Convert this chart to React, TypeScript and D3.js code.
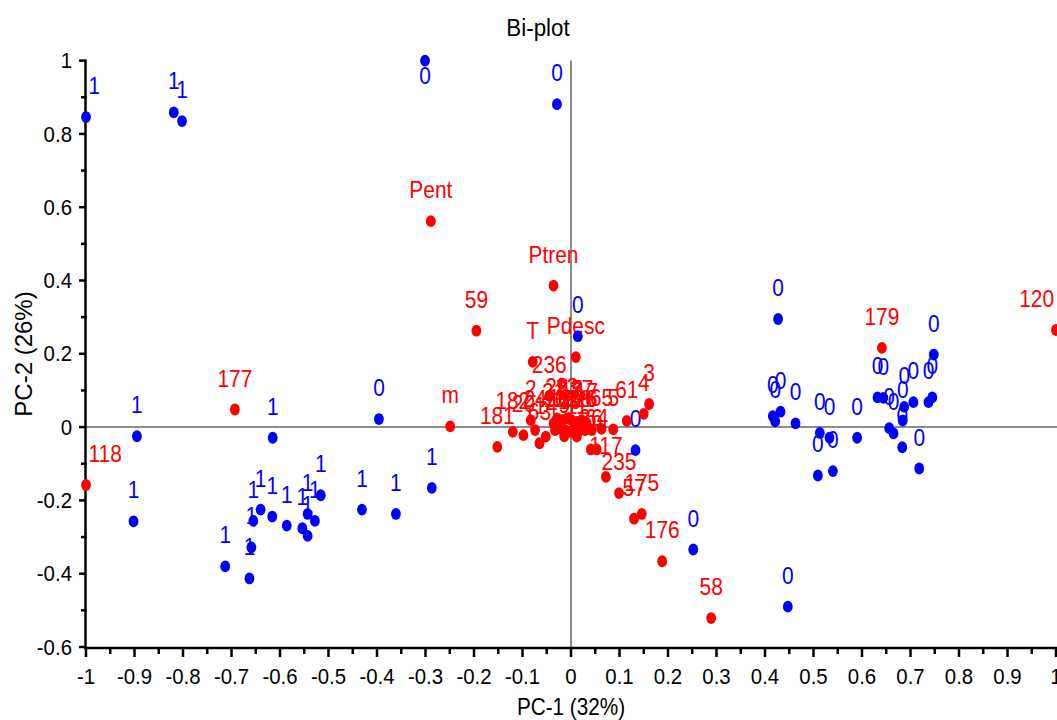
import React, { useEffect, useRef } from "react";
import * as d3 from "d3";

const W = 1057;
const H = 720;
const FONT = "'Liberation Sans', Arial, Helvetica, sans-serif";

// Observation scores on the first two components, with their class label
const obsClass = [
  "1", "1", "1", "1", "1", "1", "1", "1", "1", "1", "1", "1", "1", "1", "1", "1", "1", "1", "1", "1", "1",
  "0", "0", "0", "0", "0", "0", "0",
  "0", "0", "0", "0", "0", "0", "0", "0", "0", "0", "0", "0", "0", "0", "0", "0", "0", "0", "0", "0", "0", "0",
];
const obsPC1 = [
  -1.0, -0.819, -0.802, -0.895, -0.615, -0.902, -0.713, -0.663, -0.659, -0.655, -0.64, -0.616, -0.586, -0.554,
  -0.543, -0.543, -0.528, -0.516, -0.431, -0.361, -0.287,
  -0.396, -0.301, -0.029, 0.014, 0.133, 0.252, 0.447,
  0.427, 0.432, 0.416, 0.421, 0.463, 0.513, 0.533, 0.509, 0.54, 0.59, 0.632, 0.644, 0.656, 0.665, 0.687, 0.684,
  0.683, 0.706, 0.718, 0.737, 0.745, 0.748,
];
const obsPC2 = [
  0.846, 0.859, 0.835, -0.025, -0.029, -0.257, -0.38, -0.413, -0.328, -0.256, -0.225, -0.244, -0.269, -0.276,
  -0.297, -0.237, -0.256, -0.186, -0.225, -0.237, -0.166,
  0.022, 1.0, 0.881, 0.248, -0.063, -0.334, -0.49,
  0.295, 0.042, 0.03, 0.016, 0.01, -0.016, -0.029, -0.132, -0.12, -0.029, 0.081, 0.08, -0.003, -0.017, 0.055,
  0.018, -0.055, 0.068, -0.113, 0.068, 0.081, 0.198,
];

// Variable loadings on the first two components
const varNames = [
  "Pent", "Ptren", "59", "T", "Pdesc", "236", "177", "118", "m", "181",
  "182", "20", "2", "24", "63", "14", "21", "23", "8", "13",
  "15", "7", "27", "17", "10", "12", "16", "19", "22", "28",
  "26", "9", "11", "6", "65", "5", "61", "4", "3", "36",
  "64", "117", "235", "57", "175", "176", "58", "179", "120",
];
const varPC1 = [
  -0.289, -0.036, -0.195, -0.079, 0.01, -0.045, -0.693, -1.0, -0.249, -0.152,
  -0.12, -0.098, -0.083, -0.074, -0.065, -0.052, -0.036, -0.029, -0.019, -0.009,
  0.001, 0.012, 0.022, 0.032, -0.033, -0.023, -0.012, -0.002, 0.008, 0.019,
  0.029, -0.014, 0.012, 0.043, 0.063, 0.087, 0.115, 0.15, 0.161, 0.041,
  0.053, 0.072, 0.099, 0.13, 0.146, 0.188, 0.289, 0.641, 1.0,
];
const varPC2 = [
  0.562, 0.386, 0.263, 0.178, 0.191, 0.085, 0.048, -0.158, 0.002, -0.054,
  -0.013, -0.022, 0.019, -0.008, -0.044, -0.026, 0.01, 0.024, 0.019, 0.024,
  0.019, 0.014, 0.019, 0.01, -0.008, -0.004, -0.008, -0.013, -0.008, -0.008,
  -0.008, -0.025, -0.026, -0.008, -0.005, -0.006, 0.017, 0.036, 0.063, -0.061,
  -0.061, -0.136, -0.18, -0.25, -0.237, -0.366, -0.521, 0.216, 0.265,
];

const xMajorTicks = d3.range(-10, 11).map((i) => i / 10);
const xMinorTicks = d3.range(-19, 20, 2).map((i) => i / 20);
const yMajorTicks = d3.range(-3, 6).map((i) => i / 5);
const yMinorTicks = d3.range(-5, 10, 2).map((i) => i / 10);

const tickText = (v: number) => (Math.abs(v) < 1e-9 ? "0" : String(+v.toFixed(1)));

const OBS_COLOR = "#0000ff";
const VAR_COLOR = "#ff0000";

export default function App() {
  const ref = useRef<SVGSVGElement>(null);

  useEffect(() => {
    const svg = d3.select(ref.current);
    svg.selectAll("*").remove();

    const x = d3.scaleLinear().domain([-1, 1]).range([86, 1056]);
    const y = d3.scaleLinear().domain([-0.6, 1]).range([647, 60.6]);
    const axisY = 648;
    const axisX = 85.5;

    const text = (
      g: d3.Selection<any, unknown, null, undefined>,
      s: string,
      tx: number,
      ty: number,
      size: number,
      sx: number,
      anchor: string,
      fill = "#000",
      rot = 0
    ) =>
      g
        .append("text")
        .attr("transform", `translate(${tx},${ty})${rot ? ` rotate(${rot})` : ""} scale(${sx},1)`)
        .attr("text-anchor", anchor)
        .attr("font-family", FONT)
        .attr("font-size", size)
        .attr("fill", fill)
        .text(s);

    const root = svg.append("g");

    // Title and axis titles
    text(root, "Bi-plot", 538, 36, 23.5, 0.95, "middle");
    text(root, "PC-1 (32%)", 571, 715, 23, 0.9, "middle");
    text(root, "PC-2 (26%)", 32, 354, 24, 1, "middle", "#000", -90);

    // Zero reference lines
    root
      .append("line")
      .attr("x1", x(-1))
      .attr("x2", W)
      .attr("y1", y(0))
      .attr("y2", y(0))
      .attr("stroke", "#8c8c8c")
      .attr("stroke-width", 2);
    root
      .append("line")
      .attr("x1", x(0))
      .attr("x2", x(0))
      .attr("y1", y(1))
      .attr("y2", axisY)
      .attr("stroke", "#8c8c8c")
      .attr("stroke-width", 2);

    // Axes
    const axes = root.append("g").attr("stroke", "#000").attr("stroke-width", 2.5);
    axes.append("line").attr("x1", axisX).attr("x2", axisX).attr("y1", y(1) - 1).attr("y2", axisY + 1.2);
    axes.append("line").attr("x1", axisX - 1.2).attr("x2", W).attr("y1", axisY).attr("y2", axisY);

    xMajorTicks.forEach((v) => {
      axes.append("line").attr("x1", x(v)).attr("x2", x(v)).attr("y1", axisY).attr("y2", axisY + 9);
      text(root, tickText(v), x(v), 684, 21.5, 0.95, "middle");
    });
    xMinorTicks.forEach((v) => {
      axes.append("line").attr("x1", x(v)).attr("x2", x(v)).attr("y1", axisY).attr("y2", axisY + 6);
    });
    yMajorTicks.forEach((v) => {
      axes.append("line").attr("x1", 79).attr("x2", axisX).attr("y1", y(v)).attr("y2", y(v));
      text(root, tickText(v), 72, y(v) + 7.6, 21.5, 0.95, "end");
    });
    yMinorTicks.forEach((v) => {
      axes.append("line").attr("x1", 81).attr("x2", axisX + 1).attr("y1", y(v)).attr("y2", y(v));
    });

    // Point labels are placed above each point, kept inside the frame
    const labelScale = 0.87;
    const labels = root.append("g");
    const placeLabel = (s: string, vx: number, vy: number, fill: string) => {
      const px = x(vx);
      const py = y(vy);
      const t = text(labels, s, px, py, 24, labelScale, "middle", fill);
      const w = (t.node() as SVGTextElement).getComputedTextLength() * labelScale;
      let cx = px;
      if (cx - w / 2 < axisX + 3) cx = axisX + 3 + w / 2;
      if (cx + w / 2 > W - 3) cx = W - 3 - w / 2;
      let by = py - 23;
      if (by - 17 < 45) by = py + 23;
      t.attr("transform", `translate(${cx},${by}) scale(${labelScale},1)`);
    };
    obsClass.forEach((c, i) => placeLabel(c, obsPC1[i], obsPC2[i], OBS_COLOR));
    varNames.forEach((n, i) => placeLabel(n, varPC1[i], varPC2[i], VAR_COLOR));

    // Points
    const dots = root.append("g");
    dots
      .selectAll("ellipse.obs")
      .data(obsClass.map((_, i) => [obsPC1[i], obsPC2[i]]))
      .join("ellipse")
      .attr("class", "obs")
      .attr("cx", (d) => x(d[0]))
      .attr("cy", (d) => y(d[1]))
      .attr("rx", 4.9)
      .attr("ry", 5.9)
      .attr("fill", OBS_COLOR);
    dots
      .selectAll("ellipse.var")
      .data(varNames.map((_, i) => [varPC1[i], varPC2[i]]))
      .join("ellipse")
      .attr("class", "var")
      .attr("cx", (d) => x(d[0]))
      .attr("cy", (d) => y(d[1]))
      .attr("rx", 4.9)
      .attr("ry", 5.9)
      .attr("fill", VAR_COLOR);
  }, []);

  return (
    <svg
      ref={ref}
      width={W}
      height={H}
      style={{ position: "absolute", left: 0, top: 0, background: "#fff", display: "block" }}
    />
  );
}
